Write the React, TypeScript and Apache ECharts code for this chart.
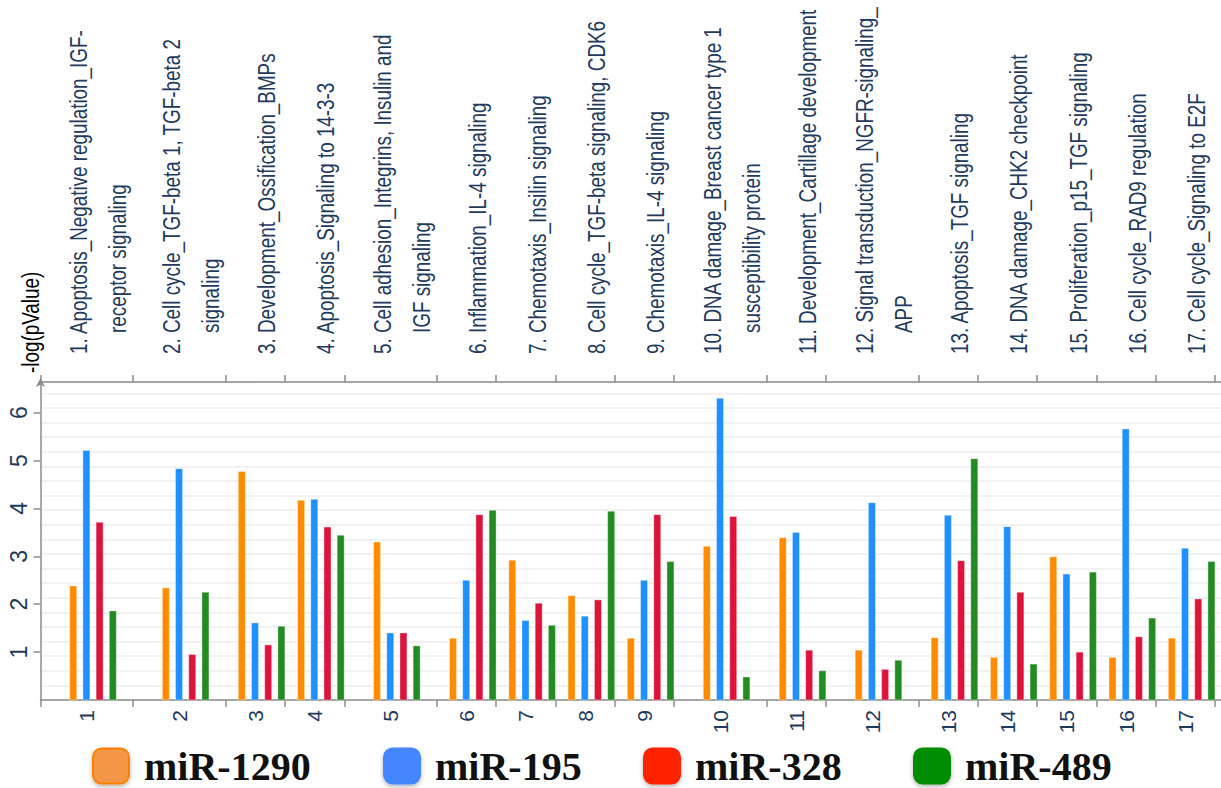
import React, { useEffect, useRef } from "react";
import * as echarts from "echarts";

// ---------- data ----------
const seriesNames = ["miR-1290", "miR-195", "miR-328", "miR-489"];
const mir1290 = [2.38, 2.34, 4.77, 4.17, 3.3, 1.29, 2.92, 2.18, 1.29, 3.21, 3.39, 1.04, 1.3, 0.89, 2.99, 0.89, 1.29];
const mir195 = [5.21, 4.83, 1.61, 4.19, 1.4, 2.5, 1.66, 1.75, 2.5, 6.3, 3.5, 4.12, 3.86, 3.62, 2.63, 5.66, 3.17];
const mir328 = [3.71, 0.95, 1.15, 3.61, 1.4, 3.87, 2.02, 2.09, 3.87, 3.83, 1.04, 0.64, 2.91, 2.25, 1.0, 1.32, 2.11];
const mir489 = [1.86, 2.25, 1.54, 3.44, 1.13, 3.96, 1.56, 3.94, 2.89, 0.48, 0.61, 0.83, 5.04, 0.75, 2.67, 1.71, 2.89];
const pathwayLabels: string[][] = [
  ["1. Apoptosis_Negative regulation_IGF-", "receptor signaling"],
  ["2. Cell cycle_TGF-beta 1, TGF-beta 2", "signaling"],
  ["3. Development_Ossification_BMPs"],
  ["4. Apoptosis_Signaling to 14-3-3"],
  ["5. Cell adhesion_Integrins, Insulin and", "IGF signaling"],
  ["6. Inflammation_IL-4 signaling"],
  ["7. Chemotaxis_Insilin signaling"],
  ["8. Cell cycle_TGF-beta signaling, CDK6"],
  ["9. Chemotaxis_IL-4 signaling"],
  ["10. DNA damage_Breast cancer type 1", "susceptibility protein"],
  ["11. Development_Cartillage development"],
  ["12. Signal transduction_NGFR-signaling_", "APP"],
  ["13. Apoptosis_TGF signaling"],
  ["14. DNA damage_CHK2 checkpoint"],
  ["15. Proliferation_p15_TGF signaling"],
  ["16. Cell cycle_RAD9 regulation"],
  ["17. Cell cycle_Signaling to E2F"],
];
const yAxisTitle = "-log(pValue)";

// ---------- layout / style ----------
const NARROW = 16;
const WIDE = 25;
const X_PAD = 1.6;
const Y_MAX = 6.64;
const MINOR_STEP = 0.305;
const BAR_W = 7;
const BAR_PITCH = 13.2;
const BAR_SHIFT = 6.2;
const LABEL_SHIFT = 11.5;
const LINE_GAP = 39;
const LABEL_START_GAP = 28;
const INDENT = 21;
const CONDENSE = 0.82;
const NAVY = "#1e3a5c";
const AXIS_GRAY = "#8c8c8c";
const FONT_SANS = "'Liberation Sans', Arial, sans-serif";
const barColors = ["#FF8C00", "#1E90FF", "#DC143C", "#228B22"];
const legendColors = ["#F39645", "#4486FF", "#FF2200", "#008C00"];
const legendBorders = ["#FF8000", "#4486FF", "#FF2200", "#008C00"];
const legendLefts = [92, 383, 643, 913];

// group geometry derived from label line count
const widths = pathwayLabels.map((l) => (l.length > 1 ? WIDE : NARROW));
const bounds: number[] = [0];
widths.forEach((w) => bounds.push(bounds[bounds.length - 1] + w));
const centers = widths.map((w, i) => bounds[i] + w / 2);
const TOTAL = bounds[bounds.length - 1];

const seriesValues = [mir1290, mir195, mir328, mir489];

export default function App() {
  const ref = useRef<HTMLDivElement>(null);
  useEffect(() => {
    if (!ref.current) return;
    const chart = echarts.init(ref.current, null, { renderer: "svg" });

    const barSeries = seriesValues.map((vals, k) => ({
      type: "custom",
      name: seriesNames[k],
      xAxisIndex: 0,
      yAxisIndex: 0,
      itemStyle: { color: barColors[k] },
      encode: { x: 0, y: 1 },
      data: vals.map((v, i) => [centers[i], v]),
      z: 3,
      renderItem: (params: any, api: any) => {
        const base = api.coord([api.value(0), 0]);
        const top = api.coord([api.value(0), api.value(1)]);
        const x = base[0] + BAR_SHIFT + (k - 1.5) * BAR_PITCH - BAR_W / 2;
        return {
          type: "rect",
          shape: { x, y: top[1], width: BAR_W, height: base[1] - top[1] },
          style: { fill: barColors[k], stroke: "rgba(255,255,255,0.35)", lineWidth: 1 },
        };
      },
    }));

    const labelSeries = {
      type: "custom",
      silent: true,
      clip: false,
      xAxisIndex: 0,
      yAxisIndex: 0,
      encode: { x: 0, y: 1 },
      data: centers.map((c, i) => [c, 0, i]),
      z: 5,
      renderItem: (params: any, api: any) => {
        const idx = api.value(2);
        const lines = pathwayLabels[idx];
        const p = api.coord([api.value(0), Y_MAX]);
        const n = lines.length;
        const children = lines.map((t: string, j: number) => ({
          type: "text",
          x: p[0] + LABEL_SHIFT + (j - (n - 1) / 2) * LINE_GAP,
          y: p[1] - LABEL_START_GAP - (j > 0 ? INDENT : 0),
          rotation: Math.PI / 2,
          scaleX: CONDENSE,
          style: {
            text: t,
            textAlign: "left",
            textVerticalAlign: "middle",
            fontSize: 23,
            fontFamily: FONT_SANS,
            fill: NAVY,
          },
        }));
        return { type: "group", children };
      },
    };

    const option: any = {
      animation: false,
      backgroundColor: "#ffffff",
      grid: { left: 40.5, top: 382, right: 0, bottom: 88, containLabel: false },
      legend: seriesNames.map((name, k) => ({
        left: legendLefts[k],
        top: 746,
        padding: 0,
        icon: "roundRect",
        itemWidth: 36,
        itemHeight: 35,
        selectedMode: false,
        data: [
          {
            name,
            itemStyle: {
              color: legendColors[k],
              borderColor: legendBorders[k],
              borderWidth: 2,
              shadowColor: "rgba(0,0,0,0.3)",
              shadowBlur: 4,
              shadowOffsetY: 2,
            },
          },
        ],
        textStyle: {
          fontFamily: "'Liberation Serif', serif",
          fontWeight: "bold",
          fontSize: 40,
          lineHeight: 36,
          color: "#111111",
          padding: [0, 0, 0, 10],
        },
      })),
      xAxis: [
        {
          type: "value",
          min: 0,
          max: TOTAL + X_PAD,
          position: "bottom",
          axisLine: { show: true, onZero: false, lineStyle: { color: AXIS_GRAY, width: 1.5 } },
          axisTick: { show: true, customValues: bounds, length: 7, lineStyle: { color: AXIS_GRAY, width: 1.5 } },
          axisLabel: {
            customValues: centers,
            rotate: 90,
            margin: 10,
            fontSize: 21,
            fontFamily: FONT_SANS,
            color: NAVY,
            formatter: (v: number) => String(centers.findIndex((c) => Math.abs(c - v) < 1e-6) + 1),
          },
          splitLine: { show: false },
        },
        {
          type: "value",
          min: 0,
          max: TOTAL + X_PAD,
          position: "top",
          axisLine: { show: true, onZero: false, lineStyle: { color: AXIS_GRAY, width: 1.5 } },
          axisTick: { show: true, customValues: bounds, length: 7, lineStyle: { color: AXIS_GRAY, width: 1.5 } },
          axisLabel: { show: false },
          splitLine: { show: false },
        },
      ],
      yAxis: [
        {
          type: "value",
          min: 0,
          max: Y_MAX,
          interval: 1,
          position: "left",
          axisLine: {
            show: true,
            onZero: false,
            symbol: ["none", "arrow"],
            symbolSize: [7, 9],
            symbolOffset: [0, 4],
            lineStyle: { color: AXIS_GRAY, width: 1.5 },
          },
          axisTick: { show: true, length: 7, lineStyle: { color: AXIS_GRAY, width: 1.5 } },
          axisLabel: {
            rotate: 90,
            margin: 10,
            fontSize: 23,
            fontFamily: FONT_SANS,
            color: NAVY,
            showMinLabel: false,
            showMaxLabel: false,
          },
          splitLine: { show: false },
          z: 4,
        },
        {
          type: "value",
          min: 0,
          max: Y_MAX,
          interval: MINOR_STEP,
          position: "left",
          axisLine: { show: false },
          axisTick: { show: false },
          axisLabel: { show: false },
          splitLine: { show: true, lineStyle: { color: "#ececec", width: 1.5 } },
        },
      ],
      graphic: [
        {
          type: "text",
          x: 31,
          y: 373,
          rotation: Math.PI / 2,
          scaleX: CONDENSE,
          style: {
            text: yAxisTitle,
            textAlign: "left",
            textVerticalAlign: "middle",
            fontSize: 23,
            fontFamily: FONT_SANS,
            fill: "#000000",
          },
        },
      ],
      series: [...barSeries, labelSeries],
    };
    chart.setOption(option);
    return () => chart.dispose();
  }, []);
  return <div ref={ref} style={{ position: "absolute", left: 0, top: 0, width: 1221, height: 788 }} />;
}
